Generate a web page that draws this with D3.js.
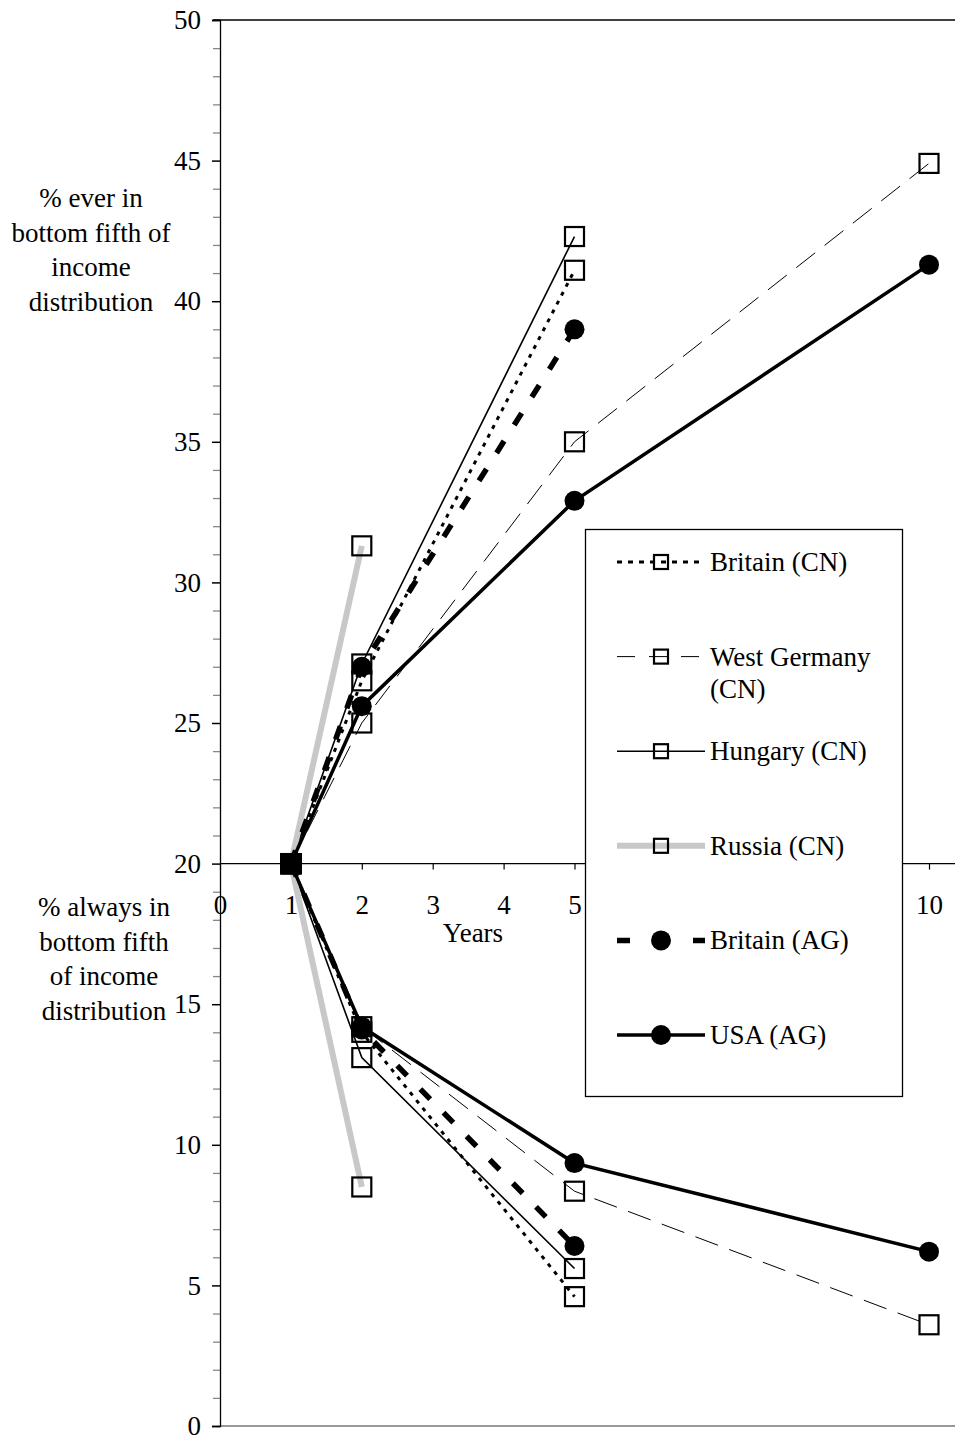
<!DOCTYPE html>
<html>
<head>
<meta charset="UTF-8">
<title>Poverty persistence</title>
<style>
    body { margin: 0; background: #fff; }
    text { font-family: "Liberation Serif", "Times New Roman", serif; fill: #000; }
</style>
</head>
<body>
<script src="https://cdn.jsdelivr.net/npm/d3@7"></script>
<script>
    // values
    var xTicks = [0, 1, 2, 3, 4, 5, 6, 7, 8, 9, 10];
    var yTicks = [0, 5, 10, 15, 20, 25, 30, 35, 40, 45, 50];

    var britainCN_years = [1, 2, 5];
    var britainCN_ever = [20, 26.5, 41.1];
    var britainCN_always = [20, 14.0, 4.6];

    var westGermany_years = [1, 2, 5, 10];
    var westGermany_ever = [20, 25.0, 35.0, 44.9];
    var westGermany_always = [20, 14.2, 8.35, 3.6];

    var hungary_years = [1, 2, 5];
    var hungary_ever = [20, 27.1, 42.3];
    var hungary_always = [20, 13.1, 5.6];

    var russia_years = [1, 2];
    var russia_ever = [20, 31.3];
    var russia_always = [20, 8.5];

    var britainAG_years = [1, 2, 5];
    var britainAG_ever = [20, 27.0, 39.0];
    var britainAG_always = [20, 14.1, 6.4];

    var usa_years = [1, 2, 5, 10];
    var usa_ever = [20, 25.6, 32.9, 41.3];
    var usa_always = [20, 14.2, 9.35, 6.2];

    var series = [
        {name: ["Britain (CN)"], years: britainCN_years, ever: britainCN_ever, always: britainCN_always,
         color: "#000", width: 3, dash: "4,6", legendDash: "5,6", marker: "square"},
        {name: ["West Germany", "(CN)"], years: westGermany_years, ever: westGermany_ever, always: westGermany_always,
         color: "#000", width: 1, dash: "24,12", legendDash: "18,14", marker: "square"},
        {name: ["Hungary (CN)"], years: hungary_years, ever: hungary_ever, always: hungary_always,
         color: "#000", width: 1.6, dash: null, legendDash: null, marker: "square"},
        {name: ["Russia (CN)"], years: russia_years, ever: russia_ever, always: russia_always,
         color: "#c8c8c8", width: 6, dash: null, legendDash: null, marker: "square"},
        {name: ["Britain (AG)"], years: britainAG_years, ever: britainAG_ever, always: britainAG_always,
         color: "#000", width: 5.5, dash: "14,19", legendDash: "13,25", marker: "circle"},
        {name: ["USA (AG)"], years: usa_years, ever: usa_ever, always: usa_always,
         color: "#000", width: 3.5, dash: null, legendDash: null, marker: "circle"}
    ];

    var W = 955, H = 1436;
    var FS = 27;
    var x = d3.scaleLinear().domain([0, 10]).range([220, 929]);
    var y = d3.scaleLinear().domain([0, 50]).range([1426, 20]);

    var svg = d3.select("body").append("svg")
        .attr("width", W)
        .attr("height", H);

    // top and bottom frame lines
    svg.append("line")
        .attr("x1", x(0) - 7).attr("x2", W)
        .attr("y1", y(50)).attr("y2", y(50))
        .attr("stroke", "#000").attr("stroke-width", 1.3);
    svg.append("line")
        .attr("x1", x(0)).attr("x2", W)
        .attr("y1", y(0)).attr("y2", y(0))
        .attr("stroke", "#777").attr("stroke-width", 1.5);

    // y axis with minor ticks
    var minor = d3.range(0, 51).filter((d) => d % 5 !== 0);
    svg.append("g")
        .attr("transform", `translate(${x(0)},0)`)
        .call(d3.axisLeft(y).tickValues(minor).tickSize(7).tickFormat(""))
        .call((g) => g.select(".domain").remove())
        .call((g) => g.selectAll("line").attr("stroke", "#888").attr("stroke-width", 1.3));

    var yAxis = svg.append("g")
        .attr("transform", `translate(${x(0)},0)`)
        .call(d3.axisLeft(y).tickValues(yTicks).tickSize(8).tickPadding(11));
    yAxis.select(".domain").attr("stroke-width", 1.3);
    yAxis.selectAll("line").attr("stroke-width", 1.5);
    yAxis.selectAll("text").attr("font-size", FS);

    // x axis sits on the 20 line
    var xAxis = svg.append("g")
        .attr("transform", `translate(0,${y(20)})`)
        .call(d3.axisBottom(x).tickValues(xTicks).tickSize(6).tickPadding(36).tickSizeOuter(0));
    xAxis.select(".domain").attr("d", `M${x(0)},0H${W}`).attr("stroke-width", 1.3);
    xAxis.selectAll("line").attr("stroke-width", 1.2);
    xAxis.selectAll("text").attr("font-size", FS).attr("dy", "0.32em");

    svg.append("text")
        .attr("x", 473).attr("y", 942)
        .attr("text-anchor", "middle")
        .attr("font-size", FS)
        .text("Years");

    // side titles
    var titleEver = ["% ever in", "bottom fifth of", "income", "distribution"];
    var titleAlways = ["% always in", "bottom fifth", "of income", "distribution"];
    svg.append("text")
        .attr("text-anchor", "middle").attr("font-size", FS)
        .selectAll("tspan").data(titleEver).enter().append("tspan")
        .attr("x", 91).attr("y", (d, i) => 207 + i * 34.5)
        .text((d) => d);
    svg.append("text")
        .attr("text-anchor", "middle").attr("font-size", FS)
        .selectAll("tspan").data(titleAlways).enter().append("tspan")
        .attr("x", 104).attr("y", (d, i) => 916 + i * 34.5)
        .text((d) => d);

    var line = d3.line()
        .x((d) => x(d[0]))
        .y((d) => y(d[1]));

    var plot = svg.append("g");

    function drawMarker(g, type, cx, cy, size, filled) {
        if (type === "square") {
            g.append("rect")
                .attr("x", cx - size / 2).attr("y", cy - size / 2)
                .attr("width", size).attr("height", size)
                .attr("fill", filled ? "#000" : "none")
                .attr("stroke", "#000").attr("stroke-width", 2.2);
        } else {
            g.append("circle")
                .attr("cx", cx).attr("cy", cy).attr("r", size / 2)
                .attr("fill", "#000");
        }
    }

    series.forEach(function(s) {
        ["ever", "always"].forEach(function(key) {
            var pts = s.years.map((yr, i) => [yr, s[key][i]]);
            plot.append("path")
                .datum(pts)
                .attr("d", line)
                .attr("fill", "none")
                .attr("stroke", s.color)
                .attr("stroke-width", s.width)
                .attr("stroke-dasharray", s.dash);
        });
    });

    series.forEach(function(s) {
        ["ever", "always"].forEach(function(key) {
            s.years.forEach(function(yr, i) {
                drawMarker(plot, s.marker, x(yr), y(s[key][i]), s.marker === "square" ? 19 : 20, i === 0);
            });
        });
    });

    // legend
    var legend = svg.append("g");
    legend.append("rect")
        .attr("x", 585.5).attr("y", 529.5)
        .attr("width", 317).attr("height", 567)
        .attr("fill", "#fff")
        .attr("stroke", "#000").attr("stroke-width", 1.3);

    var legendY = d3.scalePoint()
        .domain(series.map((s, i) => i))
        .range([562, 1035]);

    series.forEach(function(s, i) {
        var ly = legendY(i);
        var g = legend.append("g");
        g.append("line")
            .attr("x1", 617).attr("x2", 705)
            .attr("y1", ly).attr("y2", ly)
            .attr("stroke", s.color)
            .attr("stroke-width", s.width)
            .attr("stroke-dasharray", s.legendDash);
        drawMarker(g, s.marker, 661, ly, s.marker === "square" ? 14 : 20, false);
        g.append("text")
            .attr("font-size", FS)
            .selectAll("tspan").data(s.name).enter().append("tspan")
            .attr("x", 710).attr("y", (d, j) => ly + 9 + j * 32)
            .text((d) => d);
    });
</script>
</body>
</html>
